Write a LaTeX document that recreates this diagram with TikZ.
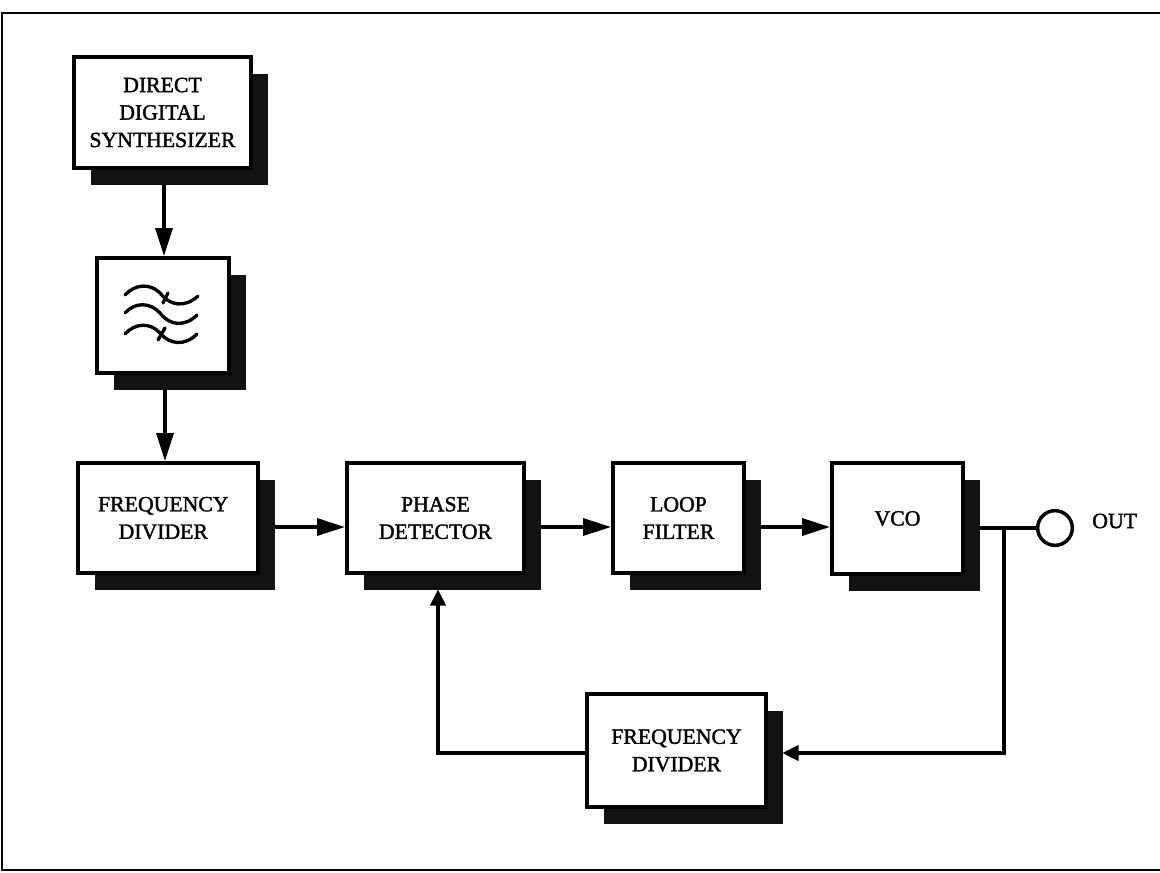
\documentclass[tikz,border=0pt]{standalone}
\usepackage{fontspec}
\setmainfont{Liberation Serif}
\newfontfamily\lblfont[FakeBold=1.6]{Liberation Serif}
\usetikzlibrary{arrows.meta,calc}
\tikzset{
  x=0.75pt,y=-0.75pt,
  blockbox/.style={draw=black,line width=2.7pt,fill=white,inner sep=0pt,align=center,font=\lblfont\fontsize{16.3pt}{20.6pt}\selectfont},
  shadowbox/.style={fill=black!93,draw=none,inner sep=0pt,outer sep=0pt},
  conn/.style={line width=3pt,-{Triangle[length=21pt,width=12.5pt]}},
  thinconn/.style={line width=2.3pt},
  thinarrow/.style={line width=2.3pt,-{Triangle[length=12pt,width=11.5pt]}},
  squiggle/.style={line width=2.5pt,line cap=round},
  framerule/.style={line width=1.5pt},
}
\newcommand{\blk}[6]{%
  \node[shadowbox,minimum width=#4*0.75pt-#2*0.75pt,minimum height=#5*0.75pt-#3*0.75pt] (#1-s) at ({(#2+#4)/2+16.5},{(#3+#5)/2+16.5}) {};
  \node[blockbox,minimum width=#4*0.75pt-#2*0.75pt,minimum height=#5*0.75pt-#3*0.75pt] (#1) at ({(#2+#4)/2},{(#3+#5)/2}) {#6};
}
\begin{document}
\begin{tikzpicture}
\useasboundingbox (0,0) rectangle (1160,872);
\fill[white] (0,0) rectangle (1160,872);
\draw[framerule] (1160,13) -- (2,13) -- (2,870) -- (1160,870);
\blk{dds}{74}{57}{251}{168}{DIRECT\\DIGITAL\\SYNTHESIZER}
\blk{flt}{97}{258}{229}{373}{}
\blk{fd}{78}{463}{258}{573}{\hspace*{-7pt}FREQUENCY\\\hspace*{-7pt}DIVIDER}
\blk{pd}{347}{463}{524}{573}{PHASE\\DETECTOR}
\blk{lf}{613}{463}{744}{573}{LOOP\\FILTER}
\blk{vco}{832}{463}{963}{574}{VCO}
\blk{fdb}{587}{694}{766}{807}{FREQUENCY\\DIVIDER}
\draw[squiggle] (125,295) .. controls (135,284) and (150,283) .. (160,293) .. controls (170,306) and (185,308) .. (198,296);
\draw[squiggle] (125,313) .. controls (135,302) and (150,302) .. (160,313) .. controls (170,326) and (185,327) .. (197,315);
\draw[squiggle] (125,334) .. controls (135,323) and (150,322) .. (160,333) .. controls (170,345) and (185,346) .. (197,334);
\draw[squiggle] (168,293) -- (163,303);
\draw[squiggle] (165,328) -- (158,340);
\coordinate (colA) at (164,0);
\coordinate (colB) at (165,0);
\coordinate (rowA) at (0,527);
\coordinate (tap) at (1004,528);
\coordinate (rowB) at (0,753);
\coordinate (colC) at (438,0);
\node[circle,draw,line width=2.6pt,minimum size=26pt,inner sep=0pt,fill=white] (outc) at (1055,528) {};
\node[anchor=west,font=\lblfont\fontsize{16.3pt}{20pt}\selectfont,inner sep=0pt] (outl) at (1092,521) {OUT};
\draw[conn] (colA |- dds-s.south) -- (colA |- flt.north);
\draw[conn] (colB |- flt-s.south) -- (colB |- fd.north);
\draw[conn] (rowA -| fd-s.east) -- (rowA -| pd.west);
\draw[conn] (rowA -| pd-s.east) -- (rowA -| lf.west);
\draw[conn] (rowA -| lf-s.east) -- (rowA -| vco.west);
\draw[thinconn] (outc.west -| vco-s.east) -- (outc.west);
\draw[thinarrow] (tap) -- (tap |- rowB) -- (rowB -| fdb-s.east);
\draw[thinarrow] (rowB -| fdb.west) -- (rowB -| colC) -- (colC |- pd-s.south);
\end{tikzpicture}
\end{document}
